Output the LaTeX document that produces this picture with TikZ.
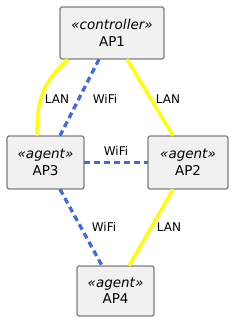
\documentclass[tikz,border=0pt]{standalone}
\usepackage{fontspec}
\setmainfont{DejaVu Sans}
\usepackage{tikz}
\usetikzlibrary{arrows.meta, positioning, calc}

\definecolor{boxfill}{HTML}{F1F1F1}
\definecolor{boxline}{HTML}{181818}
\definecolor{lanyellow}{HTML}{FFFF00}
\definecolor{wifiblue}{HTML}{4169E1}

\tikzset{
    apbox/.style={draw=boxline, fill=boxfill, rounded corners=1.5pt, line width=0.6pt,
        align=center, inner sep=0pt, font=\fontsize{13.5}{16.5}\selectfont},
    lanlink/.style={draw=lanyellow, line width=3.3pt},
    wifilink/.style={draw=wifiblue, line width=3.3pt, dash pattern=on 6pt off 4pt},
    linklabel/.style={font=\fontsize{12}{14}\selectfont, inner sep=1pt}
}

\begin{document}
\begin{tikzpicture}[x=1pt, y=1pt, line cap=butt]

    \useasboundingbox (0,0) rectangle (230,323);

    % Access points
    \node[apbox, minimum width=104pt, minimum height=52pt] (ap1) at (112,290) {\textit{«controller»}\\AP1};
    \node[apbox, minimum width=77pt, minimum height=53pt] (ap3) at (45.5,160.5) {\textit{«agent»}\\AP3};
    \node[apbox, minimum width=80pt, minimum height=53pt] (ap2) at (188,160.5) {\textit{«agent»}\\AP2};
    \node[apbox, minimum width=77pt, minimum height=50pt] (ap4) at (115.5,32) {\textit{«agent»}\\AP4};

    % Wired links
    \draw[lanlink] ([xshift=-44pt]ap1.south) to[out=222, in=90, looseness=1.1] ([xshift=-8.5pt]ap3.north);
    \draw[lanlink] ([xshift=15pt]ap1.south) -- ([xshift=-15pt]ap2.north);
    \draw[lanlink] ([xshift=-15pt]ap2.south) -- ([xshift=13.5pt]ap4.north);

    % Wireless links
    \draw[wifilink] ([xshift=-13pt]ap1.south) -- ([xshift=14.5pt]ap3.north);
    \draw[wifilink] (ap3.east) -- (ap2.west);
    \draw[wifilink] ([xshift=14.5pt]ap3.south) -- ([xshift=-13.5pt]ap4.north);

    % Link labels
    \node[linklabel] (lan13) at (57,224) {LAN};
    \node[linklabel] (wifi13) at (105,224) {WiFi};
    \node[linklabel] (lan12) at (168,224) {LAN};
    \node[linklabel] (wifi32) at (116,172) {WiFi};
    \node[linklabel] (wifi34) at (104,96) {WiFi};
    \node[linklabel] (lan24) at (169,96) {LAN};

\end{tikzpicture}
\end{document}
